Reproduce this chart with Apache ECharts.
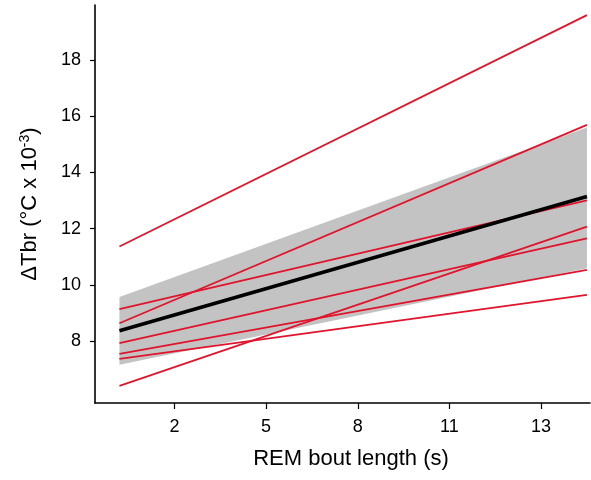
<!DOCTYPE html>
<html>
<head>
<meta charset="utf-8">
<script src="https://cdn.jsdelivr.net/npm/echarts@6/dist/echarts.min.js"></script>
<style>
  html, body { margin: 0; padding: 0; background: #fff; }
  #main { width: 591px; height: 480px; }
</style>
</head>
<body>
<div id="main"></div>
<script>
// x positions of the two ends of every fitted line
var xEnds = [0.2, 15.5];
// tick positions on the x axis and the labels printed there
var xTickPos = [2, 5, 8, 11, 14];
var xTickLabels = ["2", "5", "8", "11", "13"];
var yTickPos = [8, 10, 12, 14, 16, 18];

// individual fits (red): value at left end, value at right end
var indivStart = [11.36, 9.13, 8.63, 7.92, 7.54, 7.36, 6.40];
var indivEnd = [19.6, 13.0, 15.69, 11.65, 10.53, 9.64, 12.07];

// population fit (black) and its band (grey)
var meanLine = [8.36, 13.14];
var bandLow = [7.15, 10.59];
var bandHigh = [9.56, 15.6];

var font = "Liberation Sans, Arial, sans-serif";
var red = "#e0142c";

function pairs(vals) {
  return xEnds.map(function (x, i) { return [x, vals[i]]; });
}

var series = [
  {
    name: "band",
    type: "custom",
    silent: true,
    data: xEnds.map(function (x, i) { return [x, bandLow[i], bandHigh[i]]; }),
    encode: { x: 0, y: [1, 2] },
    renderItem: function (params, api) {
      if (params.dataIndex !== 0) return null;
      var pts = [];
      xEnds.forEach(function (x, i) { pts.push(api.coord([x, bandHigh[i]])); });
      for (var i = xEnds.length - 1; i >= 0; i--) pts.push(api.coord([xEnds[i], bandLow[i]]));
      return { type: "polygon", shape: { points: pts }, style: { fill: "#c3c3c3" } };
    },
    z: 1
  }
];

indivStart.forEach(function (v, i) {
  series.push({
    name: "ind" + i,
    type: "line",
    data: pairs([v, indivEnd[i]]),
    symbol: "none",
    lineStyle: { color: red, width: 1.8 },
    z: 3
  });
});

series.push({
  name: "mean",
  type: "line",
  data: pairs(meanLine),
  symbol: "none",
  lineStyle: { color: "#000", width: 3.6 },
  z: 4
});

var chart = echarts.init(document.getElementById("main"));
chart.setOption({
  animation: false,
  grid: { left: 95, right: 1, top: 5, bottom: 77 },
  xAxis: {
    type: "value",
    min: -0.6,
    max: 15.6,
    splitLine: { show: false },
    axisLine: { onZero: false, lineStyle: { color: "#000", width: 1.6 } },
    axisTick: { customValues: xTickPos, length: 6, lineStyle: { color: "#000", width: 1.2 } },
    axisLabel: {
      customValues: xTickPos,
      margin: 15,
      color: "#000",
      fontSize: 18,
      fontFamily: font,
      formatter: function (v) { return xTickLabels[xTickPos.indexOf(v)]; }
    },
    name: "REM bout length (s)",
    nameLocation: "middle",
    nameGap: 45,
    nameTextStyle: { color: "#000", fontSize: 22, fontFamily: font, padding: [0, 0, 0, 17] }
  },
  yAxis: {
    type: "value",
    min: 5.79,
    max: 19.96,
    splitLine: { show: false },
    axisLine: { onZero: false, lineStyle: { color: "#000", width: 1.6 } },
    axisTick: { customValues: yTickPos, length: 5, lineStyle: { color: "#000", width: 1.2 } },
    axisLabel: {
      customValues: yTickPos,
      margin: 14,
      color: "#000",
      fontSize: 18,
      fontFamily: font
    },
    name: "{a|ΔTbr (°C x 10}{s|-3}{a|)}",
    nameLocation: "middle",
    nameRotate: 90,
    nameGap: 54,
    nameTextStyle: {
      color: "#000",
      fontFamily: font,
      rich: {
        a: { fontSize: 22, fontFamily: font, color: "#000" },
        s: { fontSize: 14, fontFamily: font, color: "#000", padding: [0, 0, 9, 0] }
      }
    }
  },
  series: series
});
</script>
</body>
</html>
